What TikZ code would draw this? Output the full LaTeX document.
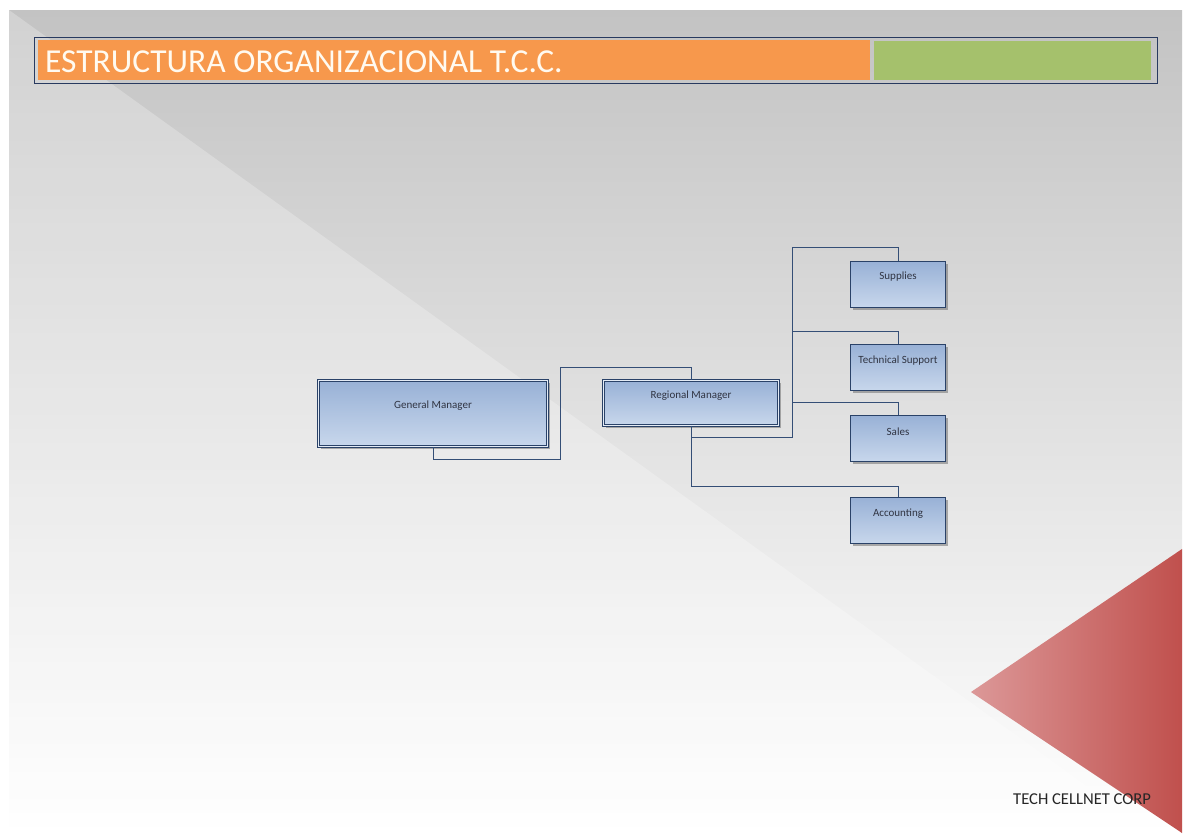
\documentclass[tikz,border=0pt]{standalone}
\usepackage{fontspec}
\setmainfont{Carlito}
\usetikzlibrary{shadows}

\definecolor{slidetop}{RGB}{195,195,195}
\definecolor{slidemid}{RGB}{224,224,224}
\definecolor{titleorange}{RGB}{247,152,76}
\definecolor{titlegreen}{RGB}{165,193,108}
\definecolor{titleink}{RGB}{255,250,240}
\definecolor{frameblue}{RGB}{40,58,96}
\definecolor{boxtop}{RGB}{152,177,214}
\definecolor{boxbottom}{RGB}{200,215,236}
\definecolor{boxline}{RGB}{42,66,104}
\definecolor{connblue}{RGB}{52,78,118}
\definecolor{boxink}{RGB}{48,52,66}
\definecolor{redlight}{RGB}{220,152,152}
\definecolor{reddark}{RGB}{192,80,77}

\tikzset{
  conn/.style={draw=connblue, line width=0.9pt},
  orgbox/.style={draw=boxline, line width=1pt, top color=boxtop, bottom color=boxbottom,
    inner sep=0pt, minimum width=95pt, minimum height=46pt,
    drop shadow={shadow xshift=2pt, shadow yshift=-2pt, opacity=0.5, fill=black!60}},
  mgrbox/.style={orgbox, line width=0.9pt, double=boxbottom!50!white, double distance=1.3pt},
  boxtext/.style={font=\fontsize{11}{13}\selectfont, text=boxink, inner sep=0pt, anchor=center}
}

\begin{document}
\begin{tikzpicture}[x=1pt,y=-1pt]
  \useasboundingbox (0,0) rectangle (1189,833);
  % slide background
  \fill[white] (0,0) rectangle (1189,833);
  \shade[top color=slidetop, middle color=slidemid, bottom color=white] (9,10) rectangle (1182,833);
  \fill[white, opacity=0.25] (9,10) -- (1152,833) -- (9,833) -- cycle;

  % title bar
  \fill[titleorange] (38,40) rectangle (870,80);
  \fill[titlegreen] (874,41) rectangle (1151,80);
  \draw[frameblue, line width=0.7pt] (34,37) rectangle (1157,83);
  \node[anchor=base west, inner sep=0pt, text=titleink, font=\fontsize{33.5}{40}\selectfont]
    (title) at (45,72) {ESTRUCTURA ORGANIZACIONAL T.C.C.};

  % boxes
  \node[mgrbox, minimum width=229pt, minimum height=66pt,
    label={[boxtext, yshift=-26pt]north:General Manager}] (gm) at (433,413.5) {};
  \node[mgrbox, minimum width=175pt, minimum height=45pt,
    label={[boxtext, yshift=-16pt]north:Regional Manager}] (rm) at (691,403) {};
  \node[orgbox, label={[boxtext, yshift=-16pt]north:Supplies}] (sup) at (898,284.5) {};
  \node[orgbox, label={[boxtext, yshift=-17pt]north:Technical Support}] (tech) at (898,367.5) {};
  \node[orgbox, label={[boxtext, yshift=-17pt]north:Sales}] (sales) at (898,438.5) {};
  \node[orgbox, label={[boxtext, yshift=-17pt]north:Accounting}] (acc) at (898,520.5) {};

  % connectors
  \coordinate (spinetop) at (792,247);
  \coordinate (spinebot) at (792,437);
  \draw[conn] (gm.south) -- ++(0,12) -| (560,367) -| (rm.north);
  \draw[conn] (rm.south) |- (spinebot) -- (spinetop) -| (sup.north);
  \draw[conn] (spinetop |- 0,331) -| (tech.north);
  \draw[conn] (spinetop |- 0,402) -| (sales.north);
  \draw[conn] (rm.south) |- ([yshift=11pt]acc.north) -- (acc.north);

  % red corner
  \shade[left color=redlight, right color=reddark] (971,692) -- (1182,549) -- (1182,833) -- cycle;
  \node[anchor=base west, inner sep=0pt, text=black!85, font=\fontsize{16.6}{19}\selectfont]
    (corp) at (1013,804) {TECH CELLNET CORP};
\end{tikzpicture}
\end{document}
